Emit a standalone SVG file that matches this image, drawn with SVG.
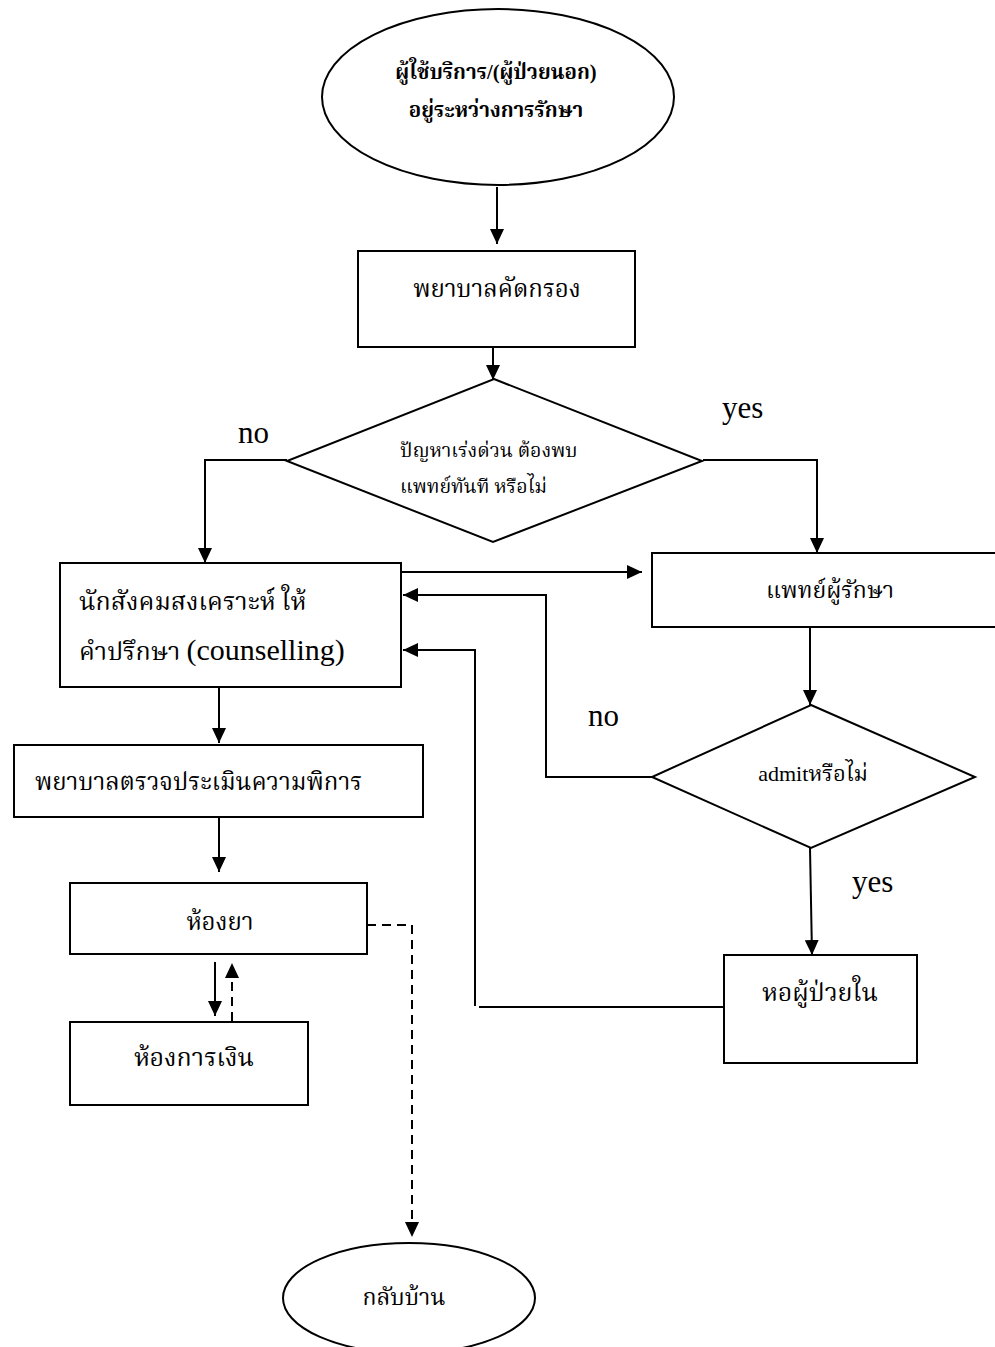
<svg xmlns="http://www.w3.org/2000/svg" width="995" height="1347" viewBox="0 0 995 1347">
<style>
.s{fill:#fff;stroke:#000;stroke-width:2}
.t{font-family:"Liberation Serif","Noto Serif Thai","Noto Sans Thai",serif;fill:#000}
.c{stroke:#000;stroke-width:2;fill:none}
.d{stroke:#000;stroke-width:2;fill:none;stroke-dasharray:9,6}
</style>
<defs>
<marker id="ah" markerUnits="userSpaceOnUse" markerWidth="16" markerHeight="14" refX="15" refY="7" orient="auto">
<path d="M0,0 L15,7 L0,14 z" fill="#000"/>
</marker>
</defs>
<rect width="995" height="1347" fill="#fff"/>
<g id="connectors">
<line class="c" x1="497" y1="187" x2="497" y2="244" marker-end="url(#ah)"/>
<line class="c" x1="493" y1="347" x2="493" y2="380" marker-end="url(#ah)"/>
<polyline class="c" points="287,460 205,460 205,563" marker-end="url(#ah)"/>
<polyline class="c" points="703,460 817,460 817,553" marker-end="url(#ah)"/>
<line class="c" x1="401" y1="572" x2="642" y2="572" marker-end="url(#ah)"/>
<line class="c" x1="810" y1="627" x2="810" y2="705" marker-end="url(#ah)"/>
<polyline class="c" points="652,777 546,777 546,595 403,595" marker-end="url(#ah)"/>
<line class="c" x1="810" y1="848" x2="812" y2="955" marker-end="url(#ah)"/>
<line class="c" x1="724" y1="1007" x2="479" y2="1007"/>
<polyline class="c" points="475,1006 475,650 403,650" marker-end="url(#ah)"/>
<line class="c" x1="219" y1="687" x2="219" y2="743" marker-end="url(#ah)"/>
<line class="c" x1="219" y1="817" x2="219" y2="872" marker-end="url(#ah)"/>
<line class="c" x1="215" y1="962" x2="215" y2="1016" marker-end="url(#ah)"/>
<line class="d" x1="232" y1="1021" x2="232" y2="963" marker-end="url(#ah)"/>
<polyline class="d" points="367,925 412,925 412,1237" marker-end="url(#ah)"/>
</g>
<g id="start">
<ellipse class="s" cx="498" cy="97" rx="176" ry="88"/>
<text class="t" x="496" y="79" font-size="20.5" font-weight="bold" text-anchor="middle">ผู้ใช้บริการ/(ผู้ป่วยนอก)</text>
<text class="t" x="496" y="117" font-size="20.5" font-weight="bold" text-anchor="middle">อยู่ระหว่างการรักษา</text>
</g>
<g id="screen">
<rect class="s" x="358" y="251" width="277" height="96"/>
<text class="t" x="497" y="297" font-size="24" text-anchor="middle">พยาบาลคัดกรอง</text>
</g>
<g id="urgent">
<polygon class="s" points="494,379 702,461 493,542 287,461"/>
<text class="t" x="400" y="457" font-size="19.5">ปัญหาเร่งด่วน ต้องพบ</text>
<text class="t" x="400" y="493" font-size="19.5">แพทย์ทันที หรือไม่</text>
</g>
<text class="t" x="238" y="443" font-size="31">no</text>
<text class="t" x="722" y="418" font-size="31">yes</text>
<g id="counsel">
<rect class="s" x="60" y="563" width="341" height="124"/>
<text class="t" x="79" y="610" font-size="25">นักสังคมสงเคราะห์ ให้</text>
<text class="t" x="79" y="660" font-size="25">คำปรึกษา <tspan font-size="30">(counselling)</tspan></text>
</g>
<g id="doctor">
<polyline class="s" points="998,553 652,553 652,627 998,627"/>
<text class="t" x="830" y="598" font-size="23" text-anchor="middle">แพทย์ผู้รักษา</text>
</g>
<g id="admit">
<polygon class="s" points="811,705 975,777 811,848 652,777"/>
<text class="t" x="813" y="781" font-size="22" text-anchor="middle">admitหรือไม่</text>
</g>
<text class="t" x="588" y="726" font-size="31">no</text>
<text class="t" x="852" y="892" font-size="31">yes</text>
<g id="ward">
<rect class="s" x="724" y="955" width="193" height="108"/>
<text class="t" x="820" y="1001" font-size="25" text-anchor="middle">หอผู้ป่วยใน</text>
</g>
<g id="assess">
<rect class="s" x="14" y="745" width="409" height="72"/>
<text class="t" x="35" y="790" font-size="24">พยาบาลตรวจประเมินความพิการ</text>
</g>
<g id="pharmacy">
<rect class="s" x="70" y="883" width="297" height="71"/>
<text class="t" x="220" y="930" font-size="24" text-anchor="middle">ห้องยา</text>
</g>
<g id="finance">
<rect class="s" x="70" y="1022" width="238" height="83"/>
<text class="t" x="194" y="1066" font-size="25" text-anchor="middle">ห้องการเงิน</text>
</g>
<g id="home">
<ellipse class="s" cx="409" cy="1298" rx="126" ry="55"/>
<text class="t" x="404" y="1305" font-size="23" text-anchor="middle">กลับบ้าน</text>
</g>
</svg>
